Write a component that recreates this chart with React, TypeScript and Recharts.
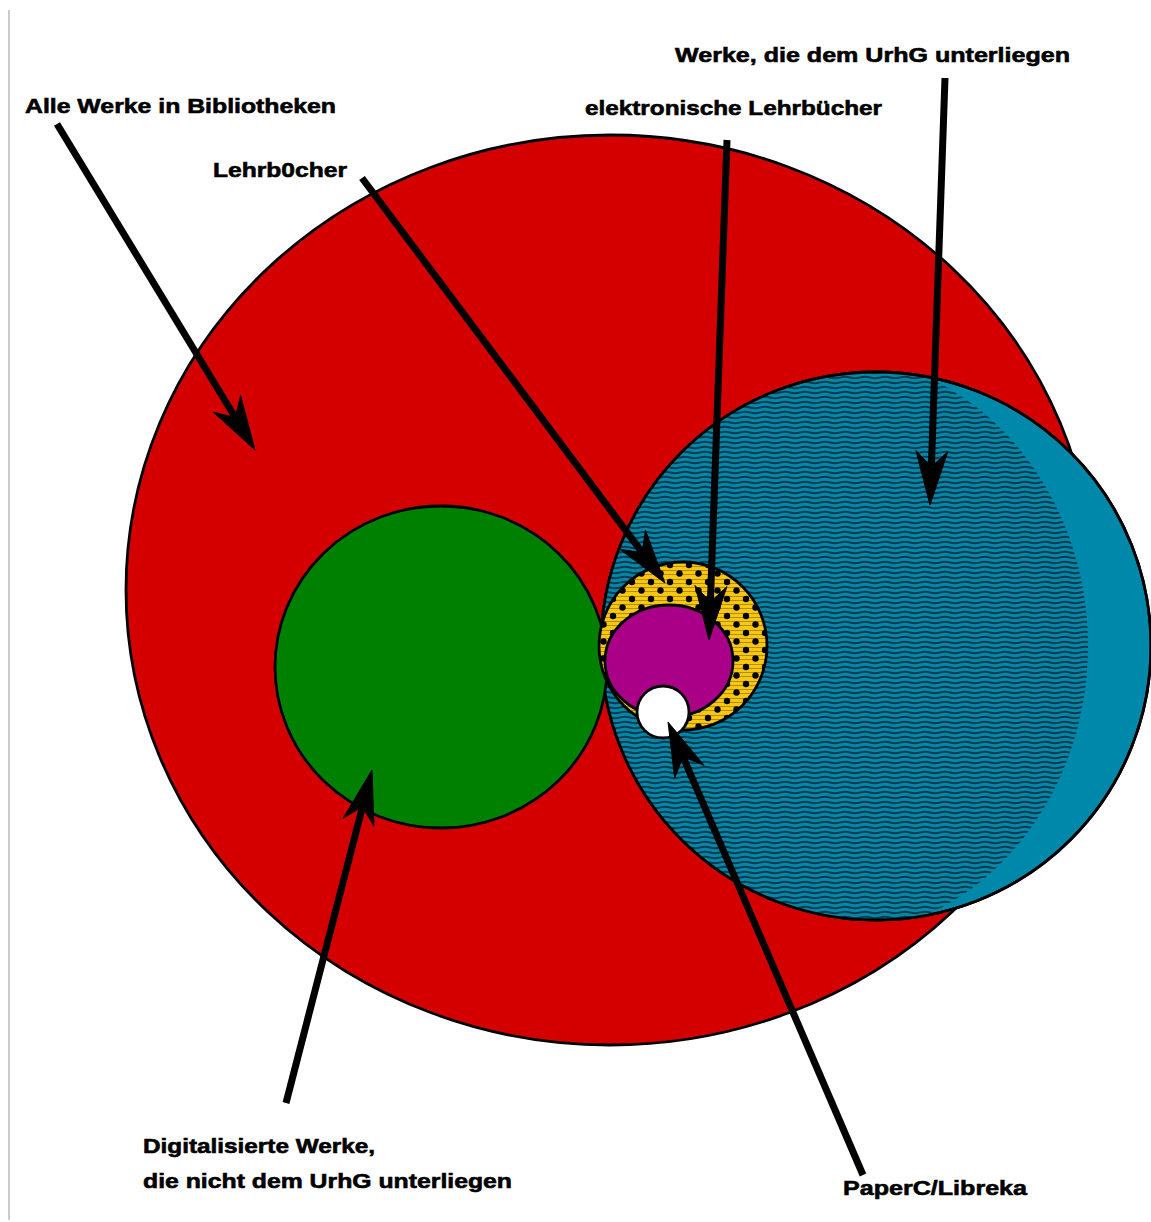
import React from "react";
import { ScatterChart, Scatter, XAxis, YAxis, ReferenceLine } from "recharts";

const WIDTH = 1151;
const HEIGHT = 1222;
const X_DOMAIN: [number, number] = [0, 1151];
const Y_DOMAIN: [number, number] = [0, 1222];

// Flächen: Mittelpunkt und Halbachsen in Diagrammkoordinaten
const regionKeys = ["alle", "urhg", "urhgSchraffur", "digital", "lehrbuch", "eLehrbuch", "paperc"];
const regionCx = [610, 876, 830, 441, 683, 669, 663];
const regionCy = [590, 646, 646, 667, 646, 661, 712];
const regionRx = [484, 275, 258, 166, 84, 64, 26];
const regionRy = [455, 274, 290, 161, 84, 56, 26];

// Pfeile: Anfang -> Spitze
const arrowTailX = [57, 362, 727, 945, 286, 863];
const arrowTailY = [124, 178, 140, 78, 1103, 1175];
const arrowTipX = [255, 665, 709, 930, 372, 668];
const arrowTipY = [450, 583, 640, 505, 770, 722];

// Beschriftungen (linker Rand, Grundlinie, Breite)
const labelTexts = [
  "Alle Werke in Bibliotheken",
  "Lehrb0cher",
  "elektronische Lehrbücher",
  "Werke, die dem UrhG unterliegen",
  "Digitalisierte Werke,",
  "die nicht dem UrhG unterliegen",
  "PaperC/Libreka",
];
const labelX = [25, 213, 585, 675, 143, 143, 843];
const labelY = [113, 177, 115, 62, 1153, 1188, 1195];
const labelWidth = [311, 134, 297, 395, 232, 369, 184];

const regionStyle: Record<string, { fill: string; stroke: string; clip?: string }> = {
  alle: { fill: "#d40000", stroke: "#000" },
  urhg: { fill: "#0088aa", stroke: "#000" },
  urhgSchraffur: { fill: "url(#wave)", stroke: "none", clip: "url(#urhgClip)" },
  digital: { fill: "#008000", stroke: "#000" },
  lehrbuch: { fill: "url(#dots)", stroke: "#000" },
  eLehrbuch: { fill: "#aa0088", stroke: "#000" },
  paperc: { fill: "#ffffff", stroke: "#000" },
};

const KX = WIDTH / (X_DOMAIN[1] - X_DOMAIN[0]);
const KY = HEIGHT / (Y_DOMAIN[1] - Y_DOMAIN[0]);

const regions = regionKeys.map((key, i) => ({
  key,
  x: regionCx[i],
  y: regionCy[i],
  rx: regionRx[i],
  ry: regionRy[i],
}));

const arrows = arrowTipX.map((x, i) => ({
  x,
  y: arrowTipY[i],
  tailX: arrowTailX[i],
  tailY: arrowTailY[i],
}));

const labels = labelTexts.map((text, i) => ({
  text,
  x: labelX[i],
  y: labelY[i],
  width: labelWidth[i],
}));

const RegionShape = (props: any) => {
  const { cx, cy, payload } = props;
  const s = regionStyle[payload.key];
  const rx = payload.rx * KX;
  const ry = payload.ry * KY;
  return (
    <g>
      {payload.key === "urhg" && (
        <clipPath id="urhgClip">
          <ellipse cx={cx} cy={cy} rx={rx} ry={ry} />
        </clipPath>
      )}
      <ellipse
        cx={cx}
        cy={cy}
        rx={rx}
        ry={ry}
        fill={s.fill}
        stroke={s.stroke}
        strokeWidth={2.8}
        clipPath={s.clip}
      />
    </g>
  );
};

const OutlineShape = (props: any) => {
  const { cx, cy, payload } = props;
  return (
    <ellipse cx={cx} cy={cy} rx={payload.rx * KX} ry={payload.ry * KY} fill="none" stroke="#000" strokeWidth={2.8} />
  );
};

const ArrowShape = (props: any) => {
  const { cx, cy, payload } = props;
  const tx = cx + (payload.tailX - payload.x) * KX;
  const ty = cy + (payload.tailY - payload.y) * KY;
  const dx = cx - tx;
  const dy = cy - ty;
  const len = Math.hypot(dx, dy);
  const ux = dx / len;
  const uy = dy / len;
  const px = -uy;
  const py = ux;
  const head = 54;
  const half = 16;
  const notch = 38;
  const nx = cx - ux * notch;
  const ny = cy - uy * notch;
  const pts = [
    [cx, cy],
    [cx - ux * head + px * half, cy - uy * head + py * half],
    [nx, ny],
    [cx - ux * head - px * half, cy - uy * head - py * half],
  ]
    .map((p) => p.join(","))
    .join(" ");
  return (
    <g>
      <line x1={tx} y1={ty} x2={nx + ux * 2} y2={ny + uy * 2} stroke="#000" strokeWidth={7} />
      <polygon points={pts} fill="#000" stroke="#000" strokeWidth={1} strokeLinejoin="miter" />
    </g>
  );
};

const LabelShape = (props: any) => {
  const { cx, cy, payload } = props;
  return (
    <text
      x={cx}
      y={cy}
      fontFamily="'Liberation Sans', Arial, sans-serif"
      fontWeight="bold"
      fontSize={21}
      fill="#000"
      stroke="#000"
      strokeWidth={0.6}
      textLength={payload.width * KX}
      lengthAdjust="spacingAndGlyphs"
    >
      {payload.text}
    </text>
  );
};

const front = ["digital", "lehrbuch", "eLehrbuch", "paperc"];

export default function App() {
  return (
    <div style={{ position: "absolute", left: 0, top: 0, width: WIDTH, height: HEIGHT, background: "#fff" }}>
      <ScatterChart width={WIDTH} height={HEIGHT} margin={{ top: 0, right: 0, bottom: 0, left: 0 }}>
        <defs>
          <pattern id="wave" width="20" height="5" patternUnits="userSpaceOnUse">
            <rect width="20" height="5" fill="#0088aa" />
            <path d="M0 2.5 Q5 1 10 2.5 T20 2.5" stroke="#0a3a4c" strokeWidth={2.1} fill="none" />
          </pattern>
          <pattern id="dots" width="19" height="17" patternUnits="userSpaceOnUse">
            <rect width="19" height="17" fill="#f7c812" />
            <line x1="0" y1="1.5" x2="19" y2="1.5" stroke="#b88a00" strokeWidth={1} />
            <line x1="0" y1="5.5" x2="19" y2="5.5" stroke="#b88a00" strokeWidth={1} />
            <line x1="0" y1="9.5" x2="19" y2="9.5" stroke="#b88a00" strokeWidth={1} />
            <line x1="0" y1="13.5" x2="19" y2="13.5" stroke="#b88a00" strokeWidth={1} />
            <circle cx="5" cy="4" r="3.2" fill="#000" />
            <circle cx="14.5" cy="12.5" r="3.2" fill="#000" />
          </pattern>
        </defs>
        <XAxis type="number" dataKey="x" domain={X_DOMAIN} hide />
        <YAxis type="number" dataKey="y" domain={Y_DOMAIN} reversed hide />
        <ReferenceLine
          segment={[
            { x: 9, y: 10 },
            { x: 9, y: 1220 },
          ]}
          stroke="#999"
          strokeWidth={1}
        />
        <Scatter
          data={regions.filter((r) => !front.includes(r.key))}
          shape={RegionShape}
          isAnimationActive={false}
        />
        <Scatter
          data={regions.filter((r) => r.key === "urhg")}
          shape={OutlineShape}
          isAnimationActive={false}
        />
        <Scatter
          data={regions.filter((r) => front.includes(r.key))}
          shape={RegionShape}
          isAnimationActive={false}
        />
        <Scatter data={arrows} shape={ArrowShape} isAnimationActive={false} />
        <Scatter data={labels} shape={LabelShape} isAnimationActive={false} />
      </ScatterChart>
    </div>
  );
}
